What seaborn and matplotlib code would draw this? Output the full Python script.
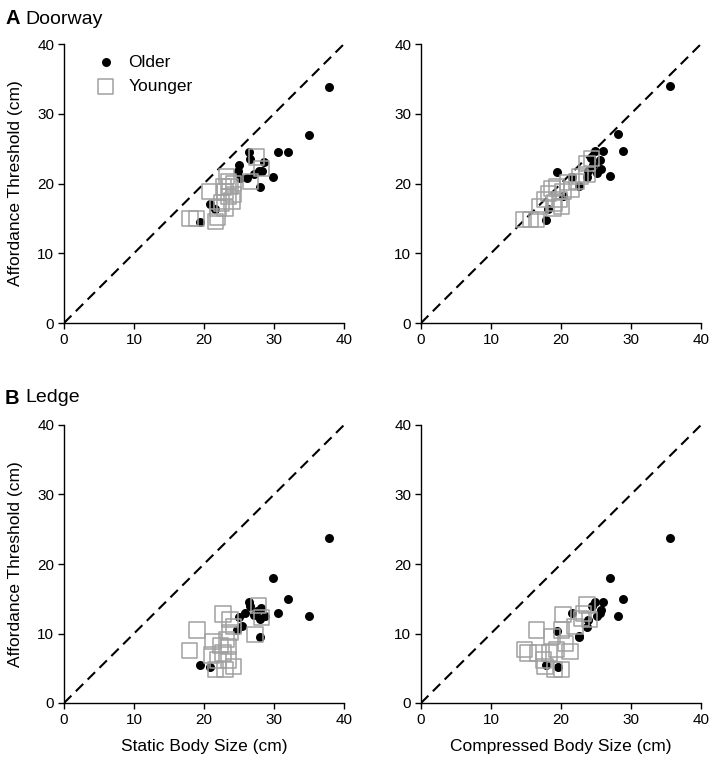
import numpy as np
import pandas as pd
import seaborn as sns
import matplotlib.pyplot as plt

# ---- data (cm) ----
# A Doorway, static body size vs threshold
a_static_old_x = [37.8, 35.0, 32.0, 30.5, 26.4, 26.6, 28.6, 25.0, 24.9, 25.1, 26.1, 27.1, 27.9, 28.3, 29.9, 28.0, 20.9, 21.6, 19.4]
a_static_old_y = [33.9, 26.9, 24.5, 24.5, 24.5, 23.5, 23.1, 22.6, 21.8, 20.8, 20.8, 21.3, 21.8, 21.8, 21.0, 19.5, 17.0, 16.4, 14.5]
a_static_young_x = [18.0, 18.9, 21.6, 21.9, 20.8, 22.0, 22.5, 23.0, 23.0, 23.5, 24.2, 23.7, 23.5, 23.2, 24.0, 26.6, 27.5, 28.2, 22.8, 24.2]
a_static_young_y = [15.0, 15.0, 14.6, 15.2, 18.9, 16.5, 17.2, 16.5, 18.9, 18.1, 18.4, 19.6, 20.3, 21.0, 17.5, 20.3, 23.8, 22.2, 19.5, 20.0]

# A Doorway, compressed body size vs threshold
a_comp_old_x = [35.6, 28.1, 28.8, 26.0, 24.8, 24.3, 25.6, 19.4, 25.7, 21.5, 23.7, 25.1, 27.0, 22.5, 18.1, 17.8, 24.6, 23.9, 20.3]
a_comp_old_y = [34.0, 27.1, 24.7, 24.7, 24.7, 23.7, 23.3, 21.7, 22.1, 21.0, 21.0, 21.5, 21.1, 19.7, 16.3, 14.7, 22.6, 21.8, 18.2]
a_comp_young_x = [14.6, 15.6, 16.5, 17.0, 17.7, 18.2, 18.7, 19.4, 19.1, 19.8, 20.1, 20.3, 21.0, 21.5, 22.2, 22.7, 23.7, 24.4, 23.7, 18.9]
a_comp_young_y = [14.8, 14.8, 14.8, 16.7, 17.7, 18.6, 19.3, 19.6, 17.2, 17.7, 16.7, 18.9, 20.1, 19.1, 20.3, 21.0, 22.9, 23.6, 21.3, 16.5]

# B Ledge, static body size vs threshold
b_static_old_x = [37.8, 29.9, 32.0, 30.5, 35.0, 26.4, 28.1, 25.9, 27.1, 28.0, 28.7, 25.4, 24.7, 28.0, 19.4, 20.9, 26.6, 27.6, 25.0]
b_static_old_y = [23.8, 18.0, 14.9, 13.0, 12.5, 14.6, 13.6, 12.9, 12.7, 12.1, 12.5, 11.1, 10.5, 9.5, 5.5, 5.2, 14.0, 13.2, 12.4]
b_static_young_x = [17.9, 19.0, 22.7, 23.7, 21.3, 21.1, 21.6, 23.0, 24.2, 22.7, 23.5, 23.7, 24.2, 23.2, 22.0, 27.3, 28.2, 27.8, 23.5, 22.4]
b_static_young_y = [7.5, 10.5, 12.8, 12.0, 8.9, 6.9, 4.8, 4.8, 5.3, 7.2, 8.1, 10.1, 11.0, 9.1, 6.2, 9.9, 12.3, 14.0, 6.2, 8.3]

# B Ledge, compressed body size vs threshold
b_comp_old_x = [35.6, 27.0, 28.8, 28.1, 26.0, 24.4, 25.7, 25.2, 23.8, 21.5, 23.7, 19.4, 22.6, 17.8, 19.6, 24.9, 25.5, 22.5]
b_comp_old_y = [23.8, 18.0, 14.9, 12.5, 14.6, 13.9, 13.4, 12.5, 12.0, 12.9, 11.0, 10.4, 9.5, 5.4, 5.2, 14.5, 12.9, 9.6]
b_comp_young_x = [14.8, 15.3, 16.5, 16.7, 17.7, 17.5, 19.1, 20.1, 18.4, 19.4, 18.7, 20.6, 21.3, 20.1, 20.3, 22.0, 22.9, 23.2, 24.1, 23.7]
b_comp_young_y = [7.7, 7.2, 10.5, 7.2, 5.3, 6.2, 4.8, 4.8, 7.2, 7.7, 9.6, 8.6, 7.4, 10.5, 12.7, 11.0, 12.2, 12.9, 12.0, 14.1]

groups = ["Older", "Younger"]
ticks = [0, 10, 20, 30, 40]

sns.set_style("ticks")
plt.rcParams["font.family"] = ["Liberation Sans", "DejaVu Sans"]
plt.rcParams["axes.linewidth"] = 1.0
for key in ["text.color", "axes.labelcolor", "xtick.color", "ytick.color", "axes.edgecolor"]:
    plt.rcParams[key] = "black"

fig = plt.figure(figsize=(7.12, 7.6), dpi=100)

W = 280 / 712
H = 279 / 760
axA1 = fig.add_axes([64 / 712, 1 - 323 / 760, W, H])
axA2 = fig.add_axes([421 / 712, 1 - 323 / 760, W, H])
axB1 = fig.add_axes([64 / 712, 1 - 703 / 760, W, 278 / 760])
axB2 = fig.add_axes([421 / 712, 1 - 703 / 760, W, 278 / 760])

panels = [
    (axA1, a_static_old_x, a_static_old_y, a_static_young_x, a_static_young_y),
    (axA2, a_comp_old_x, a_comp_old_y, a_comp_young_x, a_comp_young_y),
    (axB1, b_static_old_x, b_static_old_y, b_static_young_x, b_static_young_y),
    (axB2, b_comp_old_x, b_comp_old_y, b_comp_young_x, b_comp_young_y),
]

for ax, ox, oy, yx, yy in panels:
    df = pd.DataFrame({
        "size": ox + yx,
        "thr": oy + yy,
        "group": [groups[0]] * len(ox) + [groups[1]] * len(yx),
    })
    ax.plot([0, 40], [0, 40], ls=(0, (5, 3)), color="black", lw=1.5, zorder=1)
    sns.scatterplot(data=df[df.group == "Older"], x="size", y="thr", ax=ax,
                    marker="o", color="black", edgecolor="black", s=42,
                    linewidth=0, label="Older", zorder=2)
    sns.scatterplot(data=df[df.group == "Younger"], x="size", y="thr", ax=ax,
                    marker="s", facecolor="none", edgecolor="#a0a0a0", s=120,
                    linewidth=1.1, label="Younger", zorder=3)
    ax.set_xlim(0, 40)
    ax.set_ylim(0, 40)
    ax.set_xticks(ticks)
    ax.set_yticks(ticks)
    ax.tick_params(labelsize=11, length=4, width=1.0, direction="out", pad=3,
                   colors="black")
    ax.set_xlabel("")
    ax.set_ylabel("")
    sns.despine(ax=ax)
    for sp in ax.spines.values():
        sp.set_clip_on(False)
    ax.get_legend().remove()

axA1.legend(loc="upper left", bbox_to_anchor=(0.05, 1.0), frameon=False,
            fontsize=12.5, handletextpad=0.3, labelspacing=0.55, borderaxespad=0.2)

axA1.set_ylabel("Affordance Threshold (cm)", fontsize=12.5, labelpad=10)
axB1.set_ylabel("Affordance Threshold (cm)", fontsize=12.5, labelpad=10)
axB1.set_xlabel("Static Body Size (cm)", fontsize=12.5, labelpad=9)
axB2.set_xlabel("Compressed Body Size (cm)", fontsize=12.5, labelpad=9)

fig.text(5 / 712, 1 - 19 / 760, "A", fontsize=14.5, fontweight="bold", va="center")
fig.text(25 / 712, 1 - 19 / 760, "Doorway", fontsize=14, va="center")
fig.text(5 / 712, 1 - 398 / 760, "B", fontsize=14.5, fontweight="bold", va="center")
fig.text(25 / 712, 1 - 398 / 760, "Ledge", fontsize=14, va="center")

fig.savefig("out.png", dpi=100)
